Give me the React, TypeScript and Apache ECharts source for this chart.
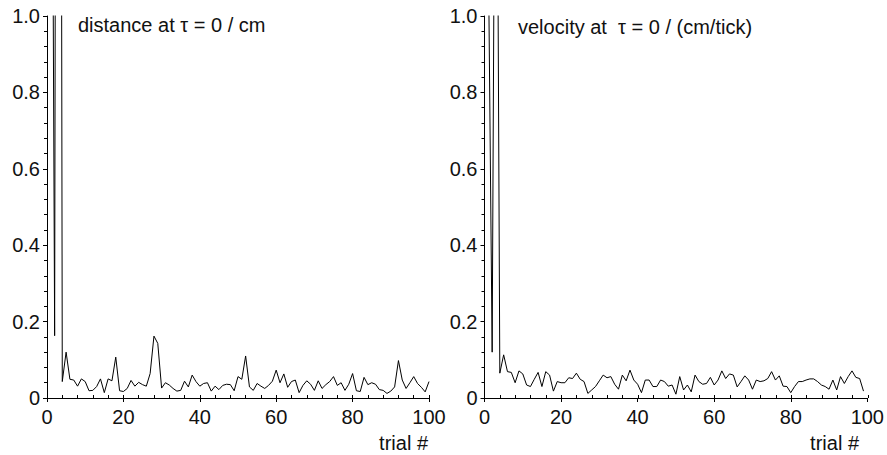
import React, { useEffect, useRef } from "react";
import * as echarts from "echarts";

// distance at tau = 0 (trials 1..100)
const distanceValues: number[] = [
  2.5, 0.163, 6, 0.043, 0.12, 0.049, 0.047, 0.031, 0.05, 0.043,
  0.019, 0.02, 0.03, 0.05, 0.014, 0.05, 0.045, 0.107, 0.019, 0.017,
  0.025, 0.046, 0.031, 0.041, 0.035, 0.031, 0.064, 0.162, 0.143, 0.026,
  0.04, 0.034, 0.025, 0.018, 0.02, 0.044, 0.029, 0.06, 0.043, 0.031,
  0.038, 0.04, 0.018, 0.031, 0.022, 0.033, 0.036, 0.035, 0.019, 0.056,
  0.049, 0.11, 0.029, 0.02, 0.038, 0.031, 0.025, 0.033, 0.044, 0.073,
  0.04, 0.063, 0.028, 0.043, 0.047, 0.014, 0.033, 0.045, 0.036, 0.02,
  0.045, 0.025, 0.035, 0.043, 0.056, 0.033, 0.04, 0.02, 0.036, 0.064,
  0.019, 0.017, 0.054, 0.035, 0.04, 0.036, 0.022, 0.02, 0.012, 0.018,
  0.029, 0.098, 0.047, 0.025, 0.04, 0.056, 0.038, 0.028, 0.016, 0.043,
];

// velocity at tau = 0 (trials 1..99)
const velocityValues: number[] = [
  1.18, 0.12, 2.2, 0.065, 0.113, 0.069, 0.067, 0.04, 0.071, 0.063,
  0.034, 0.03, 0.049, 0.067, 0.03, 0.069, 0.06, 0.018, 0.043, 0.04,
  0.04, 0.053, 0.051, 0.065, 0.049, 0.043, 0.012, 0.021, 0.03, 0.045,
  0.06, 0.053, 0.056, 0.036, 0.023, 0.06, 0.045, 0.073, 0.047, 0.036,
  0.014, 0.047, 0.047, 0.03, 0.03, 0.047, 0.043, 0.031, 0.034, 0.01,
  0.056, 0.021, 0.034, 0.016, 0.06, 0.043, 0.036, 0.038, 0.054, 0.034,
  0.047, 0.071, 0.051, 0.063, 0.06, 0.029, 0.043, 0.058, 0.047, 0.023,
  0.047, 0.043, 0.045, 0.051, 0.069, 0.047, 0.058, 0.031, 0.03, 0.014,
  0.03, 0.043, 0.043, 0.047, 0.05, 0.05, 0.043, 0.034, 0.03, 0.023,
  0.047, 0.021, 0.056, 0.038, 0.056, 0.071, 0.054, 0.051, 0.018,
];

const xTickLabels = ["0", "20", "40", "60", "80", "100"];
const yTickLabels = ["0", "0.2", "0.4", "0.6", "0.8", "1.0"];
const titles = ["distance at \u03c4 = 0 / cm", "velocity at  \u03c4 = 0 / (cm/tick)"];
const xAxisName = "trial #";

const FONT = "Liberation Sans, Arial, sans-serif";
const FS = 20;

export default function App() {
  const ref = useRef<HTMLDivElement>(null);
  useEffect(() => {
    if (!ref.current) return;
    const chart = echarts.init(ref.current, undefined, { renderer: "svg" });

    const toPairs = (vals: number[]) => vals.map((v, i) => [i + 1, v]);

    const gridL = { left: 47, top: 16, width: 382, height: 382 };
    const gridR = { left: 484.5, top: 16, width: 383.5, height: 382 };

    const mainX = (gridIndex: number) => ({
      type: "value",
      gridIndex,
      min: 0,
      max: 100,
      interval: 20,
      axisLine: { show: true, lineStyle: { color: "#000", width: 1 } },
      axisTick: { show: true, inside: false, length: 4, lineStyle: { color: "#000" } },
      splitLine: { show: false },
      axisLabel: {
        show: true,
        margin: 9,
        fontSize: FS,
        fontFamily: FONT,
        color: "#111",
        formatter: (v: number) => xTickLabels[Math.round(v / 20)] ?? String(v),
      },
    });
    const minorX = (gridIndex: number) => ({
      type: "value",
      gridIndex,
      min: 0,
      max: 100,
      interval: 4,
      axisLine: { show: false },
      axisTick: { show: true, inside: true, length: 3, lineStyle: { color: "#000" } },
      splitLine: { show: false },
      axisLabel: { show: false },
    });
    const mainY = (gridIndex: number) => ({
      type: "value",
      gridIndex,
      min: 0,
      max: 1,
      interval: 0.2,
      axisLine: { show: true, lineStyle: { color: "#000", width: 1 } },
      axisTick: { show: true, inside: false, length: 4, lineStyle: { color: "#000" } },
      minorTick: { show: true, splitNumber: 5, length: 3, lineStyle: { color: "#000" } },
      splitLine: { show: false },
      minorSplitLine: { show: false },
      axisLabel: {
        show: true,
        margin: 7,
        fontSize: FS,
        fontFamily: FONT,
        color: "#111",
        formatter: (v: number) => yTickLabels[Math.round(v / 0.2)] ?? String(v),
      },
    });
    const hiddenY = (gridIndex: number) => ({
      type: "value",
      gridIndex,
      min: 0,
      max: 1,
      show: false,
    });

    const lineSeries = (data: number[][], idx: number) => ({
      type: "line",
      xAxisIndex: idx,
      yAxisIndex: idx,
      data,
      showSymbol: false,
      symbol: "none",
      clip: true,
      lineStyle: { color: "#000", width: 1 },
    });

    chart.setOption({
      animation: false,
      backgroundColor: "#fff",
      textStyle: { fontFamily: FONT },
      grid: [gridL, gridL, gridR, gridR],
      xAxis: [mainX(0), minorX(1), mainX(2), minorX(3)],
      yAxis: [mainY(0), hiddenY(1), mainY(2), hiddenY(3)],
      series: [lineSeries(toPairs(distanceValues), 0), lineSeries(toPairs(velocityValues), 2)],
      graphic: [
        {
          type: "text",
          left: 78,
          top: 15,
          style: { text: titles[0], fontSize: FS, fontFamily: FONT, fill: "#111" },
        },
        {
          type: "text",
          left: 518,
          top: 17,
          style: { text: titles[1], fontSize: FS, fontFamily: FONT, fill: "#111" },
        },
        {
          type: "text",
          right: 887 - 428,
          top: 433,
          style: { text: xAxisName, fontSize: FS, fontFamily: FONT, fill: "#111" },
        },
        {
          type: "text",
          right: 887 - 859,
          top: 433,
          style: { text: xAxisName, fontSize: FS, fontFamily: FONT, fill: "#111" },
        },
      ],
    });
    return () => chart.dispose();
  }, []);

  return (
    <div
      ref={ref}
      style={{ position: "fixed", left: 0, top: 0, width: 887, height: 455, background: "#fff" }}
    />
  );
}
